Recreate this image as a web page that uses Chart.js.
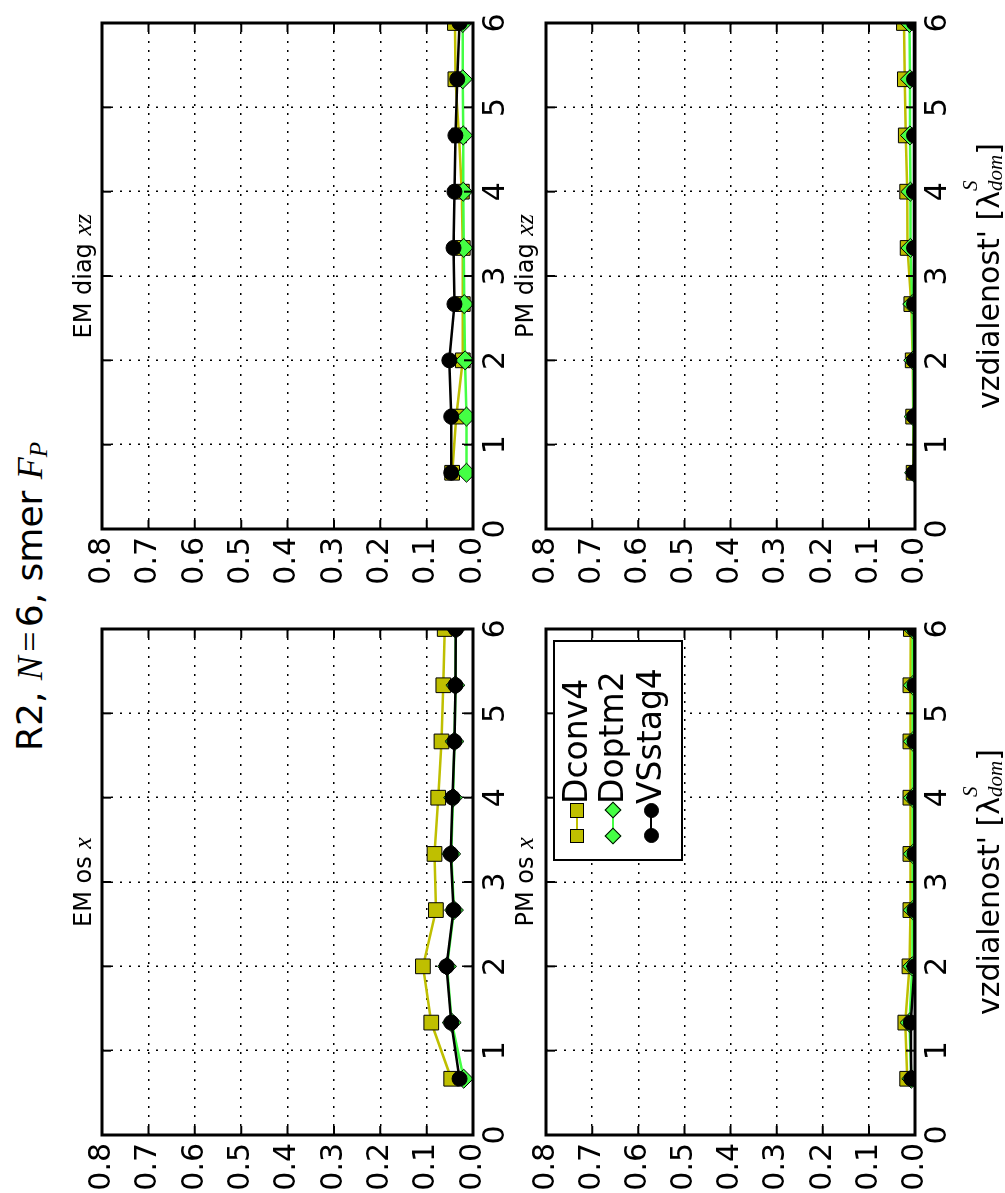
<!DOCTYPE html>
<html>
<head>
<meta charset="utf-8">
<title>R2, N=6, smer F_P</title>
<script src="https://cdn.jsdelivr.net/npm/chart.js@4.4.0/dist/chart.umd.min.js"></script>
<style>
  html, body { margin: 0; padding: 0; background: #fff; }
  body { width: 1005px; height: 1193px; overflow: hidden; position: relative; }
  /* the figure is laid out landscape and turned a quarter turn */
  #fig { position: absolute; left: 0; top: 0; width: 1193px; height: 1005px;
         transform-origin: 0 0; transform: translateY(1193px) rotate(-90deg);
         font-family: 'DejaVu Sans', sans-serif; color: #000; background: #fff; }
  #fig canvas { position: absolute; z-index: 1; }
  .txt { position: absolute; white-space: nowrap; line-height: 1.2; z-index: 3; }
  .probe { display: inline-block; width: 0; height: 0; vertical-align: baseline; }
  .m { font-family: 'Liberation Serif', 'DejaVu Serif', serif; font-style: italic; }
  .eq { font-family: 'Liberation Serif', serif; padding: 0 0.12em; }
  sub { font-size: 0.7em; vertical-align: -0.2em; line-height: 0; }
  .hi, .lo { font-family: 'Liberation Serif', serif; font-style: italic; font-size: 0.7em; line-height: 0; }
  .hi { vertical-align: 1.05em; }
  .lo { vertical-align: -0.15em; margin-left: -0.5em; }
  .title { font-size: 36px; }
  .sub { font-size: 24px; }
  .sub .m { font-size: 26px; }
  .axl { font-size: 30px; }
  .leg { font-size: 33px; z-index: 6; }
  #legend { position: absolute; z-index: 4; background: #fff; border: 2.5px solid #000; box-sizing: border-box; }
  .mk { position: absolute; box-sizing: border-box; z-index: 5; }
</style>
</head>
<body>
<div id="fig"></div>
<script>
// x positions of the samples (in lambda_dom^S)
const distance = [0.667, 1.333, 2.0, 2.667, 3.333, 4.0, 4.667, 5.333, 6.0];
const seriesNames = ['Dconv4', 'Doptm2', 'VSstag4'];
const xTickLabels = ['0', '1', '2', '3', '4', '5', '6'];
const yTickLabels = ['0.0', '0.1', '0.2', '0.3', '0.4', '0.5', '0.6', '0.7', '0.8'];

// EM os x
const emOsX_Dconv4  = [0.047, 0.090, 0.108, 0.080, 0.083, 0.075, 0.068, 0.064, 0.061];
const emOsX_Doptm2  = [0.020, 0.046, 0.056, 0.041, 0.047, 0.043, 0.040, 0.038, 0.037];
const emOsX_VSstag4 = [0.029, 0.047, 0.057, 0.042, 0.048, 0.044, 0.040, 0.038, 0.037];
// EM diag xz
const emDiag_Dconv4  = [0.045, 0.036, 0.022, 0.022, 0.022, 0.024, 0.030, 0.038, 0.039];
const emDiag_Doptm2  = [0.014, 0.014, 0.017, 0.019, 0.020, 0.021, 0.021, 0.022, 0.022];
const emDiag_VSstag4 = [0.047, 0.047, 0.051, 0.040, 0.042, 0.040, 0.038, 0.034, 0.029];
// PM os x
const pmOsX_Dconv4  = [0.017, 0.021, 0.012, 0.010, 0.010, 0.010, 0.010, 0.010, 0.009];
const pmOsX_Doptm2  = [0.008, 0.012, 0.006, 0.005, 0.005, 0.005, 0.005, 0.005, 0.005];
const pmOsX_VSstag4 = [0.008, 0.009, 0.001, 0.001, 0.001, 0.001, 0.001, 0.001, 0.001];
// PM diag xz
const pmDiag_Dconv4  = [0.003, 0.004, 0.005, 0.008, 0.016, 0.017, 0.020, 0.022, 0.024];
const pmDiag_Doptm2  = [0.002, 0.003, 0.004, 0.006, 0.010, 0.010, 0.011, 0.011, 0.012];
const pmDiag_VSstag4 = [0.003, 0.002, 0.002, 0.002, 0.002, 0.002, 0.002, 0.002, 0.002];

const STYLE = {
  Dconv4:  { color: '#bfbf00', marker: 'rect',    radius: 10.4 },
  Doptm2:  { color: '#44ff44', marker: 'rectRot', radius: 9.5 },
  VSstag4: { color: '#000000', marker: 'circle',  radius: 7.5 },
};

const fig = document.getElementById('fig');

// matplotlib-like frame with inward ticks on all four sides
const framePlugin = {
  id: 'frame',
  afterDatasetsDraw(chart) {
    const { ctx, chartArea: a, scales } = chart;
    ctx.save();
    ctx.strokeStyle = '#000';
    ctx.lineWidth = 2;
    ctx.beginPath();
    scales.x.ticks.forEach(t => {
      const p = scales.x.getPixelForValue(t.value);
      ctx.moveTo(p, a.bottom); ctx.lineTo(p, a.bottom - 9);
      ctx.moveTo(p, a.top); ctx.lineTo(p, a.top + 9);
    });
    scales.y.ticks.forEach(t => {
      const p = scales.y.getPixelForValue(t.value);
      ctx.moveTo(a.left, p); ctx.lineTo(a.left + 9, p);
      ctx.moveTo(a.right, p); ctx.lineTo(a.right - 9, p);
    });
    ctx.stroke();
    ctx.lineWidth = 3;
    ctx.strokeRect(a.left, a.top, a.right - a.left, a.bottom - a.top);
    ctx.restore();
  }
};

function drawPanel(left, top, right, bottom, values) {
  const pw = right - left, ph = bottom - top;
  const cv = document.createElement('canvas');
  cv.width = 70 + pw + 30;
  cv.height = 30 + ph + 60;
  cv.style.left = (left - 70) + 'px';
  cv.style.top = (top - 30) + 'px';
  fig.appendChild(cv);

  const tickFont = { family: "'DejaVu Sans'", size: 30 };
  new Chart(cv, {
    type: 'line',
    data: {
      datasets: seriesNames.map((name, i) => ({
        label: name,
        data: distance.map((d, j) => ({ x: d, y: values[i][j] })),
        borderColor: STYLE[name].color,
        backgroundColor: STYLE[name].color,
        pointBackgroundColor: STYLE[name].color,
        pointBorderColor: '#000',
        pointBorderWidth: 1,
        pointStyle: STYLE[name].marker,
        pointRadius: STYLE[name].radius,
        borderWidth: 2.5,
        tension: 0,
        clip: 0,
        order: 3 - i,
      })),
    },
    options: {
      responsive: false,
      animation: false,
      events: [],
      layout: { padding: { left: 0, top: 30, right: 30, bottom: 0 } },
      plugins: { legend: { display: false }, tooltip: { enabled: false } },
      scales: {
        x: {
          type: 'linear', min: 0, max: 6,
          afterFit(s) { s.height = 60; },
          ticks: { stepSize: 1, font: tickFont, color: '#000', padding: 5, maxRotation: 0, autoSkip: false,
                   callback: v => xTickLabels[Math.round(v)] },
          grid: { color: '#000', lineWidth: 1.5, drawTicks: false },
          border: { display: false, dash: [2, 7] },
        },
        y: {
          type: 'linear', min: 0, max: 0.8,
          afterFit(s) { s.width = 70; },
          ticks: { stepSize: 0.1, font: tickFont, color: '#000', padding: 8, autoSkip: false,
                   callback: v => yTickLabels[Math.round(v * 10)] },
          grid: { color: '#000', lineWidth: 1.5, drawTicks: false },
          border: { display: false, dash: [2, 7] },
        },
      },
    },
    plugins: [framePlugin],
  });
}

drawPanel(58, 102, 564, 473, [emOsX_Dconv4, emOsX_Doptm2, emOsX_VSstag4]);
drawPanel(664, 102, 1170, 473, [emDiag_Dconv4, emDiag_Doptm2, emDiag_VSstag4]);
drawPanel(58, 546, 564, 915, [pmOsX_Dconv4, pmOsX_Doptm2, pmOsX_VSstag4]);
drawPanel(664, 546, 1170, 915, [pmDiag_Dconv4, pmDiag_Doptm2, pmDiag_VSstag4]);

// text placed by its baseline
function putText(html, cls, x, baseline, align) {
  const el = document.createElement('div');
  el.className = 'txt ' + cls;
  el.innerHTML = html + '<span class="probe"></span>';
  fig.appendChild(el);
  const probe = el.querySelector('.probe');
  el.style.top = (baseline - probe.offsetTop) + 'px';
  el.style.left = (align === 'center' ? x - el.offsetWidth / 2 : x) + 'px';
  return el;
}

putText('R2, <span class="m">N</span><span class="eq">=</span>6, smer <span class="m">F<sub>P</sub></span>',
        'title', 596.5, 41.7, 'center');
putText('EM os <span class="m">x</span>', 'sub', 311, 90.7, 'center');
putText('EM diag <span class="m">xz</span>', 'sub', 917, 90.7, 'center');
putText('PM os <span class="m">x</span>', 'sub', 311, 533.3, 'center');
putText('PM diag <span class="m">xz</span>', 'sub', 917, 533.3, 'center');
const xLabel = 'vzdialenost\' [λ<span class="hi">S</span><span class="lo">dom</span>]';
putText(xLabel, 'axl', 311, 999, 'center');
putText(xLabel, 'axl', 917, 999, 'center');

// legend in the PM os x panel
const legend = document.createElement('div');
legend.id = 'legend';
Object.assign(legend.style, { left: '332px', top: '553px', width: '221px', height: '130px' });
fig.appendChild(legend);

const legendRowY = [577, 613, 651];
const legendMarkX = [357, 382.5];
seriesNames.forEach((name, i) => {
  const st = STYLE[name];
  const cy = legendRowY[i];
  const ln = document.createElement('div');
  ln.className = 'mk';
  Object.assign(ln.style, { left: legendMarkX[0] + 'px', top: (cy - 1.25) + 'px',
    width: (legendMarkX[1] - legendMarkX[0]) + 'px', height: '2.5px', background: st.color });
  fig.appendChild(ln);
  legendMarkX.forEach(mx => {
    const mk = document.createElement('div');
    mk.className = 'mk';
    let s;
    if (st.marker === 'rect') {
      s = 14.7;
    } else if (st.marker === 'rectRot') {
      s = 12;
      mk.style.transform = 'rotate(45deg)';
    } else {
      s = 15;
      mk.style.borderRadius = '50%';
    }
    Object.assign(mk.style, { left: (mx - s / 2) + 'px', top: (cy - s / 2) + 'px', width: s + 'px', height: s + 'px',
      background: st.color, border: '1px solid #000' });
    fig.appendChild(mk);
  });
  putText(name, 'leg', 389, cy + 10, 'left');
});
</script>
</body>
</html>
